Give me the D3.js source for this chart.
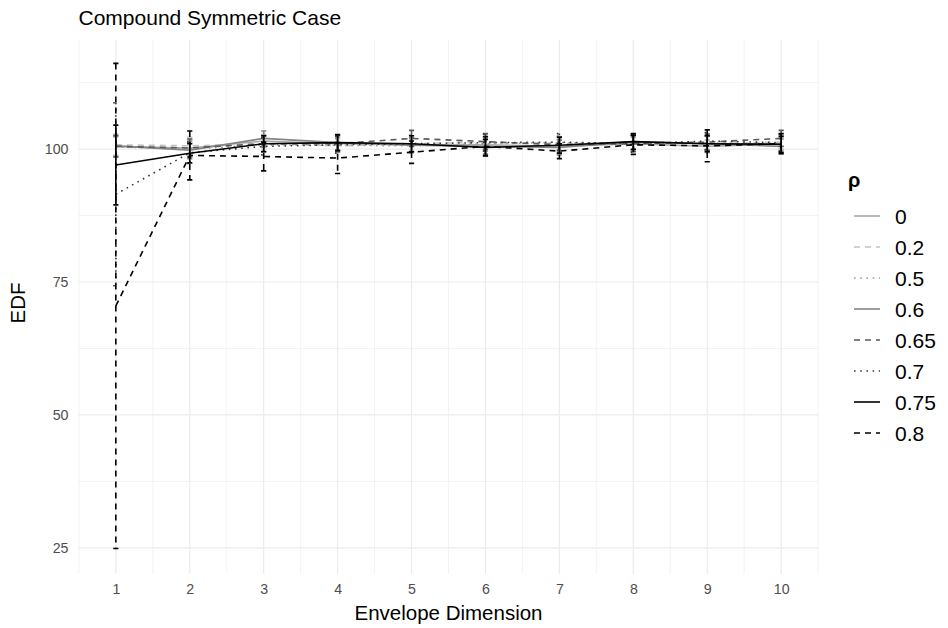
<!DOCTYPE html>
<html>
<head>
<meta charset="utf-8">
<script src="https://cdn.jsdelivr.net/npm/d3@7"></script>
<style>
  body { margin: 0; background: #fff; }
  svg { display: block; font-family: "Liberation Sans", Arial, sans-serif; }
</style>
</head>
<body>
<svg id="chart" width="948" height="628"></svg>
<script>
// Envelope dimensions on the x axis
const dims = [1, 2, 3, 4, 5, 6, 7, 8, 9, 10];
// Correlation levels (legend order)
const rhoLevels = ["0", "0.2", "0.5", "0.6", "0.65", "0.7", "0.75", "0.8"];

// Mean EDF per dimension, one array per rho
const edf_0   = [100.5, 100.2, 101.5, 101.0, 100.8, 100.8, 100.5, 101.0, 100.5, 101.0];
const edf_02  = [100.8, 100.6, 101.0, 100.6, 101.0, 101.3, 101.0, 101.2, 101.0, 101.3];
const edf_05  = [100.4, 100.0, 100.8, 100.7, 100.6, 101.0, 101.2, 101.0, 101.2, 100.8];
const edf_06  = [100.6, 99.8, 102.0, 101.2, 100.7, 100.5, 100.3, 101.4, 101.0, 100.5];
const edf_065 = [100.5, 100.2, 101.0, 101.0, 102.0, 101.4, 100.8, 101.0, 101.3, 102.0];
const edf_07  = [91.5, 99.3, 100.5, 100.8, 101.0, 101.2, 101.3, 101.0, 101.5, 101.2];
const edf_075 = [97.0, 99.2, 101.0, 101.2, 101.0, 100.3, 100.7, 101.4, 101.0, 100.9];
const edf_08  = [70.5, 98.8, 98.6, 98.3, 99.4, 100.5, 99.6, 100.8, 100.6, 101.0];

// Half-widths of the error bars
const half_0   = [1.8, 1.5, 1.2, 1.2, 1.2, 1.2, 1.2, 1.2, 1.2, 1.2];
const half_02  = [2.0, 1.6, 1.3, 1.3, 1.3, 1.3, 1.3, 1.3, 1.3, 1.3];
const half_05  = [1.9, 1.5, 1.3, 1.3, 1.3, 1.3, 1.3, 1.3, 1.3, 1.3];
const half_06  = [2.0, 1.6, 1.4, 1.4, 1.4, 1.4, 1.4, 1.4, 1.4, 1.4];
const half_065 = [2.0, 1.7, 1.5, 1.5, 1.5, 1.5, 1.5, 1.5, 1.5, 1.5];
const half_07  = [17.2, 2.0, 1.6, 1.6, 1.6, 1.6, 1.6, 1.6, 1.6, 1.6];
const half_075 = [7.5, 1.8, 1.5, 1.5, 1.5, 1.5, 1.5, 1.5, 1.5, 1.5];
const half_08  = [45.6, 4.6, 2.7, 2.9, 2.1, 1.8, 1.4, 1.8, 3.0, 1.9];

const yTicks = [25, 50, 75, 100];

const means = [edf_0, edf_02, edf_05, edf_06, edf_065, edf_07, edf_075, edf_08];
const halves = [half_0, half_02, half_05, half_06, half_065, half_07, half_075, half_08];

// Styling per rho level
const colours = ["#a8a8a8", "#c2c2c2", "#9a9a9a", "#858585", "#5a5a5a", "#383838", "#000000", "#000000"];
const dashes  = ["none", "6,5", "1.6,4.6", "none", "6,5", "1.6,4.6", "none", "6,5"];

const series = rhoLevels.map((rho, i) => ({
  rho, colour: colours[i], dash: dashes[i],
  values: dims.map((d, j) => ({ x: d, y: means[i][j], lo: means[i][j] - halves[i][j], hi: means[i][j] + halves[i][j] }))
}));

const svg = d3.select("#chart");
const panel = { left: 78.5, right: 818.5, top: 40, bottom: 574 };

const x = d3.scaleLinear().domain([0.495, 10.505]).range([panel.left, panel.right]);
const y = d3.scaleLinear().domain([20.1, 120.5]).range([panel.bottom, panel.top]);

// Grid lines (minor then major)
const grid = svg.append("g");
const xMinor = d3.range(0.5, 10.51, 1);
const yMinor = [37.5, 62.5, 87.5, 112.5];
grid.selectAll(".xm").data(xMinor).join("line")
  .attr("x1", d => x(d)).attr("x2", d => x(d))
  .attr("y1", panel.top).attr("y2", panel.bottom)
  .attr("stroke", "#ebebeb").attr("stroke-width", 0.6);
grid.selectAll(".ym").data(yMinor).join("line")
  .attr("y1", d => y(d)).attr("y2", d => y(d))
  .attr("x1", panel.left).attr("x2", panel.right)
  .attr("stroke", "#ebebeb").attr("stroke-width", 0.6);
grid.selectAll(".xM").data(dims).join("line")
  .attr("x1", d => x(d)).attr("x2", d => x(d))
  .attr("y1", panel.top).attr("y2", panel.bottom)
  .attr("stroke", "#ebebeb").attr("stroke-width", 1.2);
grid.selectAll(".yM").data(yTicks).join("line")
  .attr("y1", d => y(d)).attr("y2", d => y(d))
  .attr("x1", panel.left).attr("x2", panel.right)
  .attr("stroke", "#ebebeb").attr("stroke-width", 1.2);

// Axes without domain lines or ticks
const xAxis = svg.append("g").attr("transform", `translate(0,${panel.bottom})`)
  .call(d3.axisBottom(x).tickValues(dims).tickSize(0).tickPadding(10).tickFormat(d3.format("d")));
const yAxis = svg.append("g").attr("transform", `translate(${panel.left},0)`)
  .call(d3.axisLeft(y).tickValues(yTicks).tickSize(0).tickPadding(10));
[xAxis, yAxis].forEach(a => {
  a.select(".domain").remove();
  a.selectAll("text").attr("fill", "#4d4d4d").style("font-size", "14.2px")
    .style("font-family", "'Liberation Sans', Arial, sans-serif");
});

// Lines and error bars
const line = d3.line().x(d => x(d.x)).y(d => y(d.y));
const capHalf = 0.035;
const layer = svg.append("g");
series.forEach(s => {
  const g = layer.append("g");
  g.append("path").datum(s.values)
    .attr("d", line).attr("fill", "none")
    .attr("stroke", s.colour).attr("stroke-width", 1.6)
    .attr("stroke-dasharray", s.dash);
  const eb = g.selectAll("g.eb").data(s.values).join("g")
    .attr("stroke", s.colour).attr("stroke-width", 1.6)
    .attr("stroke-dasharray", s.dash).attr("fill", "none");
  eb.append("path").attr("d", d =>
    `M${x(d.x - capHalf)},${y(d.hi)}H${x(d.x + capHalf)}` +
    `M${x(d.x)},${y(d.hi)}V${y(d.lo)}` +
    `M${x(d.x - capHalf)},${y(d.lo)}H${x(d.x + capHalf)}`);
});

// Titles
svg.append("text").attr("x", panel.left).attr("y", 25)
  .style("font-size", "21px").attr("fill", "#000").text("Compound Symmetric Case");
svg.append("text").attr("x", (panel.left + panel.right) / 2).attr("y", 620)
  .attr("text-anchor", "middle").style("font-size", "20.5px").attr("fill", "#000")
  .text("Envelope Dimension");
svg.append("text").attr("transform", `translate(25,${(panel.top + panel.bottom) / 2 - 4}) rotate(-90)`)
  .attr("text-anchor", "middle").style("font-size", "20.5px").attr("fill", "#000").text("EDF");

// Legend
const legend = svg.append("g").attr("transform", "translate(847,0)");
legend.append("text").attr("x", 1).attr("y", 187)
  .style("font-size", "20px").style("font-weight", "bold").text("ρ");
const item = legend.selectAll("g.item").data(series).join("g")
  .attr("transform", (d, i) => `translate(0,${216 + i * 31})`);
item.append("line").attr("x1", 7).attr("x2", 33).attr("y1", 0).attr("y2", 0)
  .attr("stroke", d => d.colour).attr("stroke-width", 1.6)
  .attr("stroke-dasharray", d => d.dash);
item.append("text").attr("x", 48).attr("y", 0).attr("dy", "0.36em")
  .style("font-size", "21px").attr("fill", "#000").text(d => d.rho);
</script>
</body>
</html>
